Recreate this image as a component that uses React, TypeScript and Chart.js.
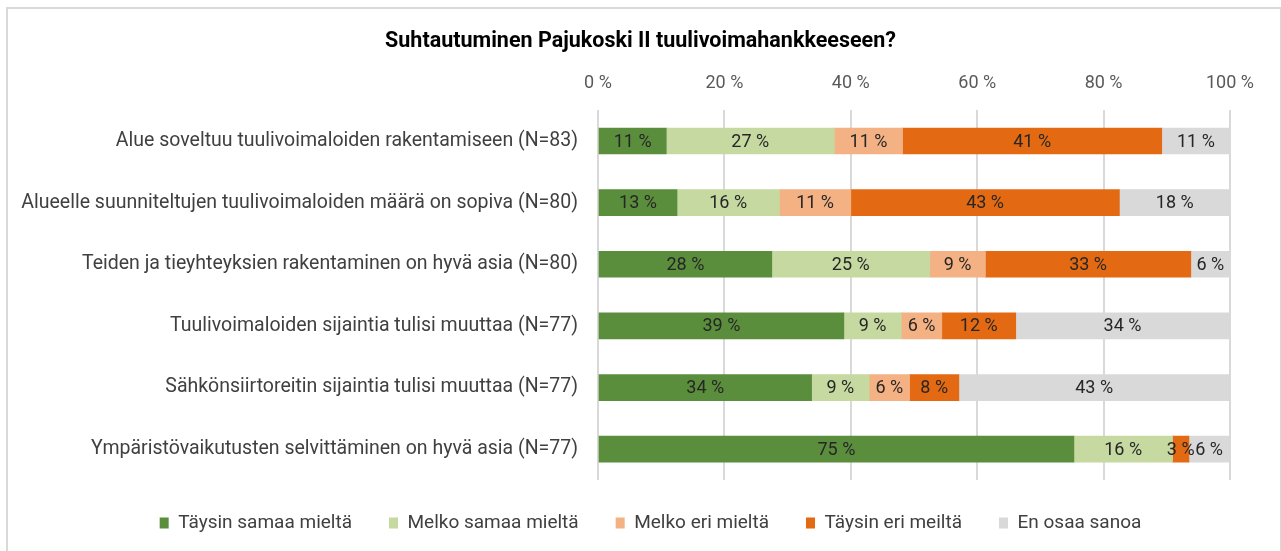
import React, { useEffect, useRef } from 'react';
import { Chart, registerables } from 'chart.js';

Chart.register(...registerables);

const chartTitle = 'Suhtautuminen Pajukoski II tuulivoimahankkeeseen?';

const categories = [
  'Alue soveltuu tuulivoimaloiden rakentamiseen (N=83)',
  'Alueelle suunniteltujen tuulivoimaloiden määrä on sopiva (N=80)',
  'Teiden ja tieyhteyksien rakentaminen on hyvä asia (N=80)',
  'Tuulivoimaloiden sijaintia tulisi muuttaa (N=77)',
  'Sähkönsiirtoreitin sijaintia tulisi muuttaa (N=77)',
  'Ympäristövaikutusten selvittäminen on hyvä asia (N=77)',
];

const seriesNames = [
  'Täysin samaa mieltä',
  'Melko samaa mieltä',
  'Melko eri mieltä',
  'Täysin eri meiltä',
  'En osaa sanoa',
];

const taysinSamaa = [10.8, 12.5, 27.5, 38.9, 33.8, 75.3];
const melkoSamaa = [26.6, 16.2, 25.0, 9.1, 9.1, 15.6];
const melkoEri = [10.8, 11.3, 8.8, 6.4, 6.4, 0];
const taysinEri = [41.0, 42.5, 32.5, 11.7, 7.8, 2.6];
const enOsaa = [10.8, 17.5, 6.2, 33.8, 42.8, 6.4];

const xTicks = [0, 20, 40, 60, 80, 100];

const colors = ['#5A8E3C', '#C5D9A0', '#F4B183', '#E36A12', '#D9D9D9'];

const FONT = "Roboto, 'Open Sans', sans-serif";

const labelPlugin = {
  id: 'segmentLabels',
  afterDatasetsDraw(chart: any) {
    const ctx = chart.ctx;
    ctx.save();
    ctx.font = `18px ${FONT}`;
    ctx.fillStyle = '#262626';
    ctx.textAlign = 'center';
    ctx.textBaseline = 'middle';
    chart.data.datasets.forEach((ds: any, di: number) => {
      const meta = chart.getDatasetMeta(di);
      if (meta.hidden) return;
      meta.data.forEach((el: any, i: number) => {
        const v = ds.data[i];
        if (!v) return;
        const p = el.getCenterPoint();
        ctx.fillText(`${Math.round(v)} %`, p.x, p.y + 1);
      });
    });
    ctx.restore();
  },
};

// Center the title over the whole canvas and place the legend like the reference
const placementPlugin = {
  id: 'placement',
  afterLayout(chart: any) {
    const t = chart.titleBlock;
    if (t) {
      t.left = 0;
      t.right = chart.width;
      t.width = chart.width;
    }
    const lg = chart.legend;
    if (lg) {
      const h = lg.height;
      lg.left = 20;
      lg.right = chart.width;
      lg.width = lg.right - lg.left;
      lg.top = 476.5;
      lg.bottom = lg.top + h;
    }
  },
};

export default function App() {
  const ref = useRef<HTMLCanvasElement | null>(null);

  useEffect(() => {
    document.body.style.margin = '0';
    const seriesData = [taysinSamaa, melkoSamaa, melkoEri, taysinEri, enOsaa];
    const chart = new Chart(ref.current as HTMLCanvasElement, {
      type: 'bar',
      data: {
        labels: categories,
        datasets: seriesNames.map((name, i) => ({
          label: name,
          data: seriesData[i],
          backgroundColor: colors[i],
          borderWidth: 0,
          barThickness: 26,
        })),
      },
      options: {
        indexAxis: 'y',
        responsive: false,
        animation: false,
        layout: { padding: { left: 10, right: 51, top: 20, bottom: 5 } },
        plugins: {
          title: {
            display: true,
            text: chartTitle,
            color: '#000000',
            font: { family: FONT, size: 21.5, weight: 'bold' },
            padding: { top: 9, bottom: 8 },
          },
          legend: {
            position: 'bottom',
            labels: {
              boxWidth: 9,
              boxHeight: 11,
              padding: 37,
              color: '#404040',
              font: { family: FONT, size: 19 },
            },
          },
          tooltip: { enabled: false },
        },
        scales: {
          x: {
            position: 'top',
            stacked: true,
            min: 0,
            max: 100,
            afterBuildTicks: (scale: any) => {
              scale.ticks = xTicks.map((v) => ({ value: v }));
            },
            afterFit: (scale: any) => {
              scale.height = 47.4;
            },
            ticks: {
              padding: 15.5,
              color: '#595959',
              font: { family: FONT, size: 18 },
              callback: (v: any) => `${v} %`,
            },
            grid: { color: '#D9D9D9', lineWidth: 2, drawTicks: false },
            border: { display: false },
          },
          y: {
            stacked: true,
            afterFit: (scale: any) => {
              scale.width = 588;
            },
            ticks: {
              padding: 20,
              color: '#404040',
              font: { family: FONT, size: 19.5 },
            },
            grid: { display: false, drawTicks: false },
            border: { display: false },
          },
        },
      },
      plugins: [labelPlugin, placementPlugin],
    });
    return () => chart.destroy();
  }, []);

  return (
    <div style={{ position: 'fixed', left: 0, top: 0, width: 1281, height: 551, background: '#fff', overflow: 'hidden' }}>
      <div
        style={{
          position: 'absolute',
          left: 6,
          top: 7,
          width: 1275,
          height: 600,
          boxSizing: 'border-box',
          borderTop: '2px solid #D9D9D9',
          borderLeft: '2px solid #D9D9D9',
          borderRight: '1px solid #D9D9D9',
        }}
      />
      <canvas ref={ref} width={1281} height={551} style={{ position: 'absolute', left: 0, top: 0 }} />
    </div>
  );
}
